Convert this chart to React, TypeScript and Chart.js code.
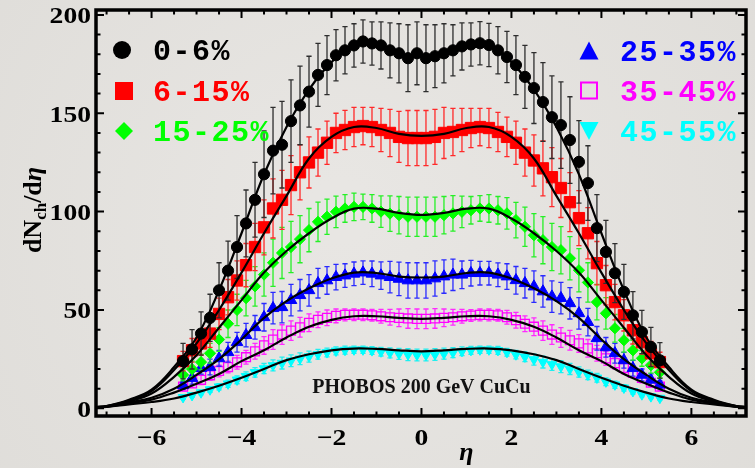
import React, { useEffect, useRef } from "react";
import { Chart, registerables } from "chart.js";

Chart.register(...registerables);

// ---------------- data ----------------
const eta = [
  -5.3, -5.1, -4.9, -4.7, -4.5, -4.3, -4.1, -3.9, -3.7, -3.5, -3.3, -3.1, -2.9, -2.7,
  -2.5, -2.3, -2.1, -1.9, -1.7, -1.5, -1.3, -1.1, -0.9, -0.7, -0.5, -0.3, -0.1,
  0.1, 0.3, 0.5, 0.7, 0.9, 1.1, 1.3, 1.5, 1.7, 1.9, 2.1, 2.3, 2.5, 2.7, 2.9, 3.1,
  3.3, 3.5, 3.7, 3.9, 4.1, 4.3, 4.5, 4.7, 4.9, 5.1, 5.3,
];

const seriesLabels = ["0-6%", "6-15%", "15-25%", "25-35%", "35-45%", "45-55%"];

const cent0to6 = [
  24, 30, 38, 46, 60, 70, 82, 94, 106, 119, 131, 134, 146, 154, 161, 169.5, 174.5, 179.5,
  182, 184.5, 186.5, 185.5, 184.5, 182, 180.5, 178, 180.5,
  178, 179, 180.5, 182, 184, 185, 185.6, 184.7, 182, 178.6, 174.5, 168.5, 162.8, 155.7,
  148, 144, 136.4, 125.3, 114.5, 91.6, 79.5, 68.7, 59.2, 47.3, 38.8, 31.2, 24.4,
];
const err0to6 = [
  9, 10, 11, 12, 14, 15, 16, 17, 19, 22, 22, 22, 21, 20, 18, 16, 15, 13, 12, 11, 11, 11,
  12, 14, 15, 17, 16,
  17, 16, 15, 13, 12, 11, 11, 11, 12, 13, 15, 16, 18, 20, 21, 22, 22, 21, 19, 17, 16, 15,
  14, 12, 11, 10, 9,
];

const cent6to15 = [
  24, 29.5, 33, 38, 48, 56.5, 65, 72.8, 82, 92, 101.6, 106, 113.5, 120, 125, 130, 135, 140,
  141.5, 143, 143.5, 143, 141.5, 140, 138, 137.4, 137.4,
  137.4, 138, 140, 140.5, 141.5, 142.5, 143, 142.5, 140.5, 138, 135, 130, 126, 122, 117.5,
  112, 104.8, 96.7, 89, 73.8, 62.6, 54, 47.3, 39.7, 33.6, 28, 23.5,
];
const err6to15 = [
  5, 6, 6, 7, 8, 9, 10, 11, 12, 14, 15, 15, 15, 14, 13, 12, 11, 10, 10, 10, 9.5, 10, 11, 12,
  13, 14, 14,
  14, 14, 13, 12, 11, 10, 9.5, 10, 10, 10, 11, 12, 13, 14, 15, 15, 15, 14, 13, 11, 10, 9, 8,
  7, 6, 6, 5,
];

const cent15to25 = [
  17, 20, 23.5, 28, 35, 43, 50, 56, 62, 68, 74, 79, 82, 86, 90.6, 94.8, 97.4, 99.9, 101.6,
  102.4, 102.4, 101.6, 100, 99, 98.2, 97.4, 97.4,
  97.4, 97.4, 98.2, 99.1, 99.9, 100.7, 101.6, 101.6, 100.7, 99.1, 95.7, 92.3, 88, 85.5, 82,
  80.4, 76.3, 70.2, 64, 54, 48.3, 40.7, 34.6, 29.5, 25.4, 21.9, 18.3,
];
const err15to25 = [
  3, 4, 4, 5, 6, 7, 8, 9, 10, 11, 12, 13, 13, 12, 11, 10, 9, 8, 7, 7, 6.5, 7, 8, 9, 9.5, 10,
  10,
  10, 10, 9.5, 9, 8, 7, 6.5, 7, 7, 8, 9, 10, 11, 12, 12, 12, 11, 11, 10, 9, 8, 7, 6, 5, 4, 4,
  3,
];

const cent25to35 = [
  11.7, 15.3, 20.4, 21, 25.4, 28.5, 33.6, 37.2, 41.2, 46.3, 50.9, 51.4, 55, 57.5, 60, 63.6,
  65, 66.7, 67.5, 68.4, 69, 68.4, 67.5, 66.7, 65.8, 65, 65,
  65, 66, 67, 67.9, 67.9, 68.7, 68.7, 68.7, 67.9, 67, 65.1, 63.6, 61.9, 59.4, 56.8, 56,
  53.4, 48.3, 43.8, 35.6, 31, 28, 24.4, 20.4, 17, 14.5, 12,
];
const err25to35 = [
  2, 3, 3, 4, 4, 5, 5, 6, 6, 7, 8, 8, 8, 8, 8, 7.5, 7, 6.5, 6, 6, 6, 6.5, 7, 8, 8.5, 9, 9,
  9, 9, 8.5, 8, 7, 6.5, 6, 6, 6, 6.5, 7, 7.5, 8, 8, 8, 8, 8, 8, 7, 6, 5, 5, 4, 4, 3, 3, 2,
];

const cent35to45 = [
  11, 12.7, 14.5, 16.8, 19, 21, 23.4, 26, 29, 32, 35, 37.5, 39.5, 41.2, 43.5, 45, 46, 47,
  47.5, 47.6, 47.6, 47.3, 46.8, 46.3, 46, 45.7, 45.5,
  45.5, 45.7, 46, 46.3, 46.8, 47.2, 47.5, 47.5, 47.3, 46.3, 44.8, 43, 41.5, 39.5, 37.5, 36,
  34.6, 33, 30.5, 28, 25.4, 23, 20.5, 18, 15.5, 13, 11,
];
const err35to45 = [
  2, 2, 2.5, 2.5, 3, 3, 3.5, 3.5, 4, 4.5, 5, 5, 5, 5, 4.5, 4, 4, 3.5, 3, 3, 3, 3, 3.5, 4,
  4.5, 5, 5,
  5, 5, 4.5, 4, 3.5, 3, 3, 3, 3, 3.5, 4, 4, 4.5, 5, 5, 5, 5, 4.5, 4.5, 4, 3.5, 3, 3, 2.5,
  2.5, 2, 2,
];

const cent45to55 = [
  5.6, 6.6, 8, 9.5, 11, 12.5, 14.5, 16.3, 18.3, 20.2, 21.8, 23, 24.2, 25.2, 26.3, 27.5,
  28.4, 29.2, 29.6, 29.8, 29.8, 29.4, 28.8, 28.2, 27.7, 27.3, 27.1,
  27.1, 27.4, 27.8, 28.3, 29, 29.5, 29.8, 29.8, 29.5, 28.5, 27.3, 26.2, 24.8, 23.5, 22.3,
  21.2, 20, 18.5, 17, 15.5, 13.5, 12, 10.4, 8.6, 7, 6, 5.2,
];
const err45to55 = [
  1, 1, 1.2, 1.4, 1.6, 1.8, 2, 2.2, 2.4, 2.6, 2.8, 3, 3, 3, 2.8, 2.5, 2.2, 2, 2, 1.8, 1.8,
  2, 2.2, 2.5, 2.8, 3, 3,
  3, 3, 2.8, 2.5, 2.2, 2, 1.8, 1.8, 2, 2, 2.2, 2.5, 2.8, 3, 3, 3, 2.8, 2.6, 2.4, 2.2, 2,
  1.8, 1.6, 1.4, 1.2, 1, 1,
];

// theory curves
const etaTheory = [
  -7.25, -7, -6.5, -6, -5.5, -5, -4.5, -4, -3.5, -3, -2.5, -2, -1.5, -1, -0.5, 0, 0.5, 1,
  1.5, 2, 2.5, 3, 3.5, 4, 4.5, 5, 5.5, 6, 6.5, 7, 7.25,
];
const theory0to6 = [
  0.6, 1.2, 4.4, 9.5, 21, 36, 60, 89, 119, 143, 162, 176, 184.5, 184.5, 180.5, 179, 180.5,
  184.5, 184.5, 176, 162, 143, 119, 89, 60, 36, 21, 9.5, 4.4, 1.2, 0.6,
];
const theory6to15 = [
  0.6, 1.1, 4, 8.8, 19.5, 33, 50, 69, 89, 108, 127, 138, 143, 142.5, 139.5, 138.5, 139.5,
  142.5, 143, 138, 127, 108, 89, 69, 50, 33, 19.5, 8.8, 4, 1.1, 0.6,
];
const theory15to25 = [
  0.6, 1, 3.5, 7.5, 16, 27, 41, 55, 69, 80, 89, 96.5, 101.5, 101.5, 99.3, 98.3, 99.3, 101.5,
  101.5, 96.5, 89, 80, 69, 55, 41, 27, 16, 7.5, 3.5, 1, 0.6,
];
const theory25to35 = [
  0.6, 0.9, 3, 5.4, 10, 17, 25, 35, 46, 54.5, 61, 66, 69, 68.8, 67, 66.5, 67, 68.8, 69, 66,
  61, 54.5, 46, 35, 25, 17, 10, 5.4, 3, 0.9, 0.6,
];
const theory35to45 = [
  0.6, 0.8, 2.6, 4.4, 8, 12.5, 17.5, 24, 29.5, 36, 41.5, 45, 46.8, 46.8, 46, 45.5, 46, 46.8,
  46.8, 45, 41.5, 36, 29.5, 24, 17.5, 12.5, 8, 4.4, 2.6, 0.8, 0.6,
];
const theory45to55 = [
  0.5, 0.7, 2, 3.2, 5, 8, 11.5, 15.5, 20, 24.5, 27.5, 29.5, 30.4, 30.2, 29.5, 29, 29.5, 30.2,
  30.4, 29.5, 27.5, 24.5, 20, 15.5, 11.5, 8, 5, 3.2, 2, 0.7, 0.5,
];

const xTickLabels = [-6, -4, -2, 0, 2, 4, 6];
const yTickLabels = [0, 50, 100, 150, 200];
const X_MIN = -7.235;
const X_MAX = 7.214;
const Y_MIN = -3.9;
const Y_MAX = 202.5;

const plotTitle = "PHOBOS 200 GeV CuCu";

// ---------------- styling ----------------
const COLORS = ["#000000", "#ff0000", "#00ff00", "#0000ff", "#ff00ff", "#00ffff"];
const ERR_COLORS = ["#2e2e2e", "#ff2a2a", "#26f026", "#2a2aff", "#ff2aff", "#22eeee"];

const pts = (xs: number[], ys: number[]) => xs.map((x, i) => ({ x, y: ys[i] }));

const bgPlugin = {
  id: "bgFill",
  beforeDraw(chart: any) {
    const { ctx, width, height } = chart;
    ctx.save();
    const g = ctx.createRadialGradient(width * 0.45, height * 0.45, 30, width * 0.5, height * 0.5, width * 0.7);
    g.addColorStop(0, "#e8e6e3");
    g.addColorStop(1, "#dedcd8");
    ctx.fillStyle = g;
    ctx.fillRect(0, 0, width, height);
    ctx.restore();
  },
};

const errorBarPlugin = {
  id: "errorBars",
  beforeDatasetDraw(chart: any, args: any) {
    const ds = chart.data.datasets[args.index];
    if (!ds.errors) return;
    const xs = chart.scales.x;
    const ys = chart.scales.y;
    const ctx = chart.ctx;
    ctx.save();
    ctx.strokeStyle = ds.errorColor;
    ctx.lineWidth = 1.3;
    ds.data.forEach((p: any, i: number) => {
      const e = ds.errors[i];
      const x = xs.getPixelForValue(p.x);
      const y1 = ys.getPixelForValue(p.y + e);
      const y2 = ys.getPixelForValue(p.y - e);
      ctx.beginPath();
      ctx.moveTo(x, y1);
      ctx.lineTo(x, y2);
      ctx.moveTo(x - 2.6, y1);
      ctx.lineTo(x + 2.6, y1);
      ctx.moveTo(x - 2.6, y2);
      ctx.lineTo(x + 2.6, y2);
      ctx.stroke();
    });
    ctx.restore();
  },
};

function drawMarker(ctx: CanvasRenderingContext2D, shape: string, color: string, x: number, y: number, s: number) {
  ctx.save();
  ctx.fillStyle = color;
  ctx.strokeStyle = color;
  ctx.beginPath();
  if (shape === "circle") {
    ctx.arc(x, y, s, 0, Math.PI * 2);
    ctx.fill();
  } else if (shape === "square") {
    ctx.rect(x - s, y - s, 2 * s, 2 * s);
    ctx.fill();
  } else if (shape === "diamond") {
    ctx.moveTo(x, y - s);
    ctx.lineTo(x + s, y);
    ctx.lineTo(x, y + s);
    ctx.lineTo(x - s, y);
    ctx.closePath();
    ctx.fill();
  } else if (shape === "triUp") {
    ctx.moveTo(x, y - s);
    ctx.lineTo(x + s, y + s * 0.9);
    ctx.lineTo(x - s, y + s * 0.9);
    ctx.closePath();
    ctx.fill();
  } else if (shape === "triDown") {
    ctx.moveTo(x, y + s);
    ctx.lineTo(x + s, y - s * 0.9);
    ctx.lineTo(x - s, y - s * 0.9);
    ctx.closePath();
    ctx.fill();
  } else if (shape === "openSquare") {
    ctx.lineWidth = 2;
    ctx.rect(x - s, y - s, 2 * s, 2 * s);
    ctx.stroke();
  }
  ctx.restore();
}

const decorPlugin = {
  id: "decor",
  afterDraw(chart: any) {
    const { ctx, chartArea } = chart;
    const xs = chart.scales.x;
    const ys = chart.scales.y;
    const { left, right, top, bottom } = chartArea;
    ctx.save();

    // inward ticks
    ctx.strokeStyle = "#000";
    ctx.lineWidth = 2;
    ctx.beginPath();
    for (let k = -14; k <= 14; k++) {
      const v = k * 0.5;
      const px = xs.getPixelForValue(v);
      if (px < left + 2 || px > right - 2) continue;
      const len = k % 4 === 0 ? 8 : 4.5;
      ctx.moveTo(px, bottom);
      ctx.lineTo(px, bottom - len);
      ctx.moveTo(px, top);
      ctx.lineTo(px, top + len);
    }
    for (let k = 0; k <= 20; k++) {
      const v = k * 10;
      const py = ys.getPixelForValue(v);
      if (py < top + 2 || py > bottom - 2) continue;
      const len = k % 5 === 0 ? 8 : 4.5;
      ctx.moveTo(left, py);
      ctx.lineTo(left + len, py);
      ctx.moveTo(right, py);
      ctx.lineTo(right - len, py);
    }
    ctx.stroke();

    // frame
    ctx.lineWidth = 3.5;
    ctx.strokeRect(left, top, right - left, bottom - top);

    // tick labels
    ctx.fillStyle = "#000";
    ctx.font = 'bold 23px "Liberation Serif"';
    const fmt = (v: number) => (v < 0 ? "\u2212" + Math.abs(v) : String(v));
    xTickLabels.forEach((v) => {
      const px = xs.getPixelForValue(v);
      ctx.save();
      ctx.translate(px, 445);
      ctx.scale(1.2, 1);
      ctx.textAlign = "center";
      ctx.textBaseline = "alphabetic";
      ctx.fillText(fmt(v), 0, 0);
      ctx.restore();
    });
    yTickLabels.forEach((v) => {
      const py = ys.getPixelForValue(v);
      ctx.save();
      ctx.translate(91, py + 8.5);
      ctx.scale(1.2, 1);
      ctx.textAlign = "right";
      ctx.textBaseline = "alphabetic";
      ctx.fillText(fmt(v), 0, 0);
      ctx.restore();
    });

    // x axis title
    ctx.font = 'italic bold 26px "Liberation Serif"';
    ctx.textAlign = "center";
    ctx.textBaseline = "alphabetic";
    ctx.fillText("\u03B7", xs.getPixelForValue(1), 460);

    // y axis title dN_ch/dη
    ctx.save();
    ctx.translate(41, 210);
    ctx.rotate(-Math.PI / 2);
    ctx.textAlign = "left";
    const fMain = 'bold 26px "Liberation Serif"';
    const fSub = 'bold 17px "Liberation Serif"';
    const fEta = 'italic bold 26px "Liberation Serif"';
    ctx.font = fMain;
    const w1 = ctx.measureText("dN").width;
    const w3 = ctx.measureText("/d").width;
    ctx.font = fSub;
    const w2 = ctx.measureText("ch").width;
    ctx.font = fEta;
    const w4 = ctx.measureText("\u03B7").width;
    let cx = -(w1 + w2 + w3 + w4) / 2;
    ctx.font = fMain;
    ctx.fillText("dN", cx, 0);
    cx += w1;
    ctx.font = fSub;
    ctx.fillText("ch", cx, 5);
    cx += w2;
    ctx.font = fMain;
    ctx.fillText("/d", cx, 0);
    cx += w3;
    ctx.font = fEta;
    ctx.fillText("\u03B7", cx, 0);
    ctx.restore();

    // plot text
    ctx.font = 'bold 20px "Liberation Serif"';
    ctx.textAlign = "center";
    ctx.fillStyle = "#111";
    ctx.fillText(plotTitle, xs.getPixelForValue(0), 393);

    // legend
    const shapes = ["circle", "square", "diamond", "triUp", "openSquare", "triDown"];
    const sizes = [9, 9, 9, 9.5, 8, 9.5];
    const legendPos = [
      [122, 50, 153],
      [124, 91, 153],
      [124, 131, 153],
      [589, 51, 620],
      [589, 90.5, 620],
      [589, 130.5, 620],
    ];
    ctx.font = 'bold 30px "Liberation Mono"';
    (ctx as any).letterSpacing = "1.5px";
    ctx.textAlign = "left";
    ctx.textBaseline = "alphabetic";
    seriesLabels.forEach((lab, i) => {
      const [mx, my, tx] = legendPos[i];
      drawMarker(ctx, shapes[i], COLORS[i], mx, my, sizes[i]);
      ctx.fillStyle = COLORS[i];
      ctx.fillText(lab, tx, my + 10);
    });
    (ctx as any).letterSpacing = "0px";

    ctx.restore();
  },
};

export default function App() {
  const ref = useRef<HTMLCanvasElement>(null);

  useEffect(() => {
    if (!ref.current) return;
    const seriesVals = [cent0to6, cent6to15, cent15to25, cent25to35, cent35to45, cent45to55];
    const seriesErrs = [err0to6, err6to15, err15to25, err25to35, err35to45, err45to55];
    const theories = [theory0to6, theory6to15, theory15to25, theory25to35, theory35to45, theory45to55];
    const pointStyles = ["circle", "rect", "rectRot", "triangle", "rect", "triangle"];
    const radii = [5.6, 8, 5.6, 6.7, 6.3, 5.6];
    const rotations = [0, 0, 0, 0, 0, 180];

    const markerSets: any[] = seriesVals.map((vals, i) => ({
      label: seriesLabels[i],
      data: pts(eta, vals),
      errors: seriesErrs[i],
      errorColor: ERR_COLORS[i],
      pointStyle: pointStyles[i],
      pointRadius: radii[i],
      pointRotation: rotations[i],
      pointBackgroundColor: i === 4 ? "rgba(0,0,0,0)" : COLORS[i],
      pointBorderColor: COLORS[i],
      pointBorderWidth: i === 4 ? 1.3 : 1,
      showLine: false,
      order: 1 + i,
    }));

    const theorySets: any[] = theories.map((vals, i) => ({
      label: "theory " + seriesLabels[i],
      data: pts(etaTheory, vals),
      showLine: true,
      borderColor: "#000",
      borderWidth: 2.2,
      pointRadius: 0,
      tension: 0.4,
      fill: false,
      order: 0,
    }));

    const chart = new Chart(ref.current, {
      type: "scatter",
      data: { datasets: [...theorySets, ...markerSets] },
      options: {
        animation: false,
        responsive: false,
        events: [],
        layout: { padding: { left: 96, top: 10, right: 3, bottom: 52 } },
        plugins: { legend: { display: false }, tooltip: { enabled: false } },
        scales: {
          x: { type: "linear", min: X_MIN, max: X_MAX, display: false },
          y: { type: "linear", min: Y_MIN, max: Y_MAX, display: false },
        },
      },
      plugins: [bgPlugin, errorBarPlugin, decorPlugin],
    } as any);
    return () => chart.destroy();
  }, []);

  return (
    <div style={{ position: "fixed", left: 0, top: 0, width: 755, height: 468 }}>
      <canvas ref={ref} width={755} height={468} style={{ display: "block", width: 755, height: 468 }} />
    </div>
  );
}
